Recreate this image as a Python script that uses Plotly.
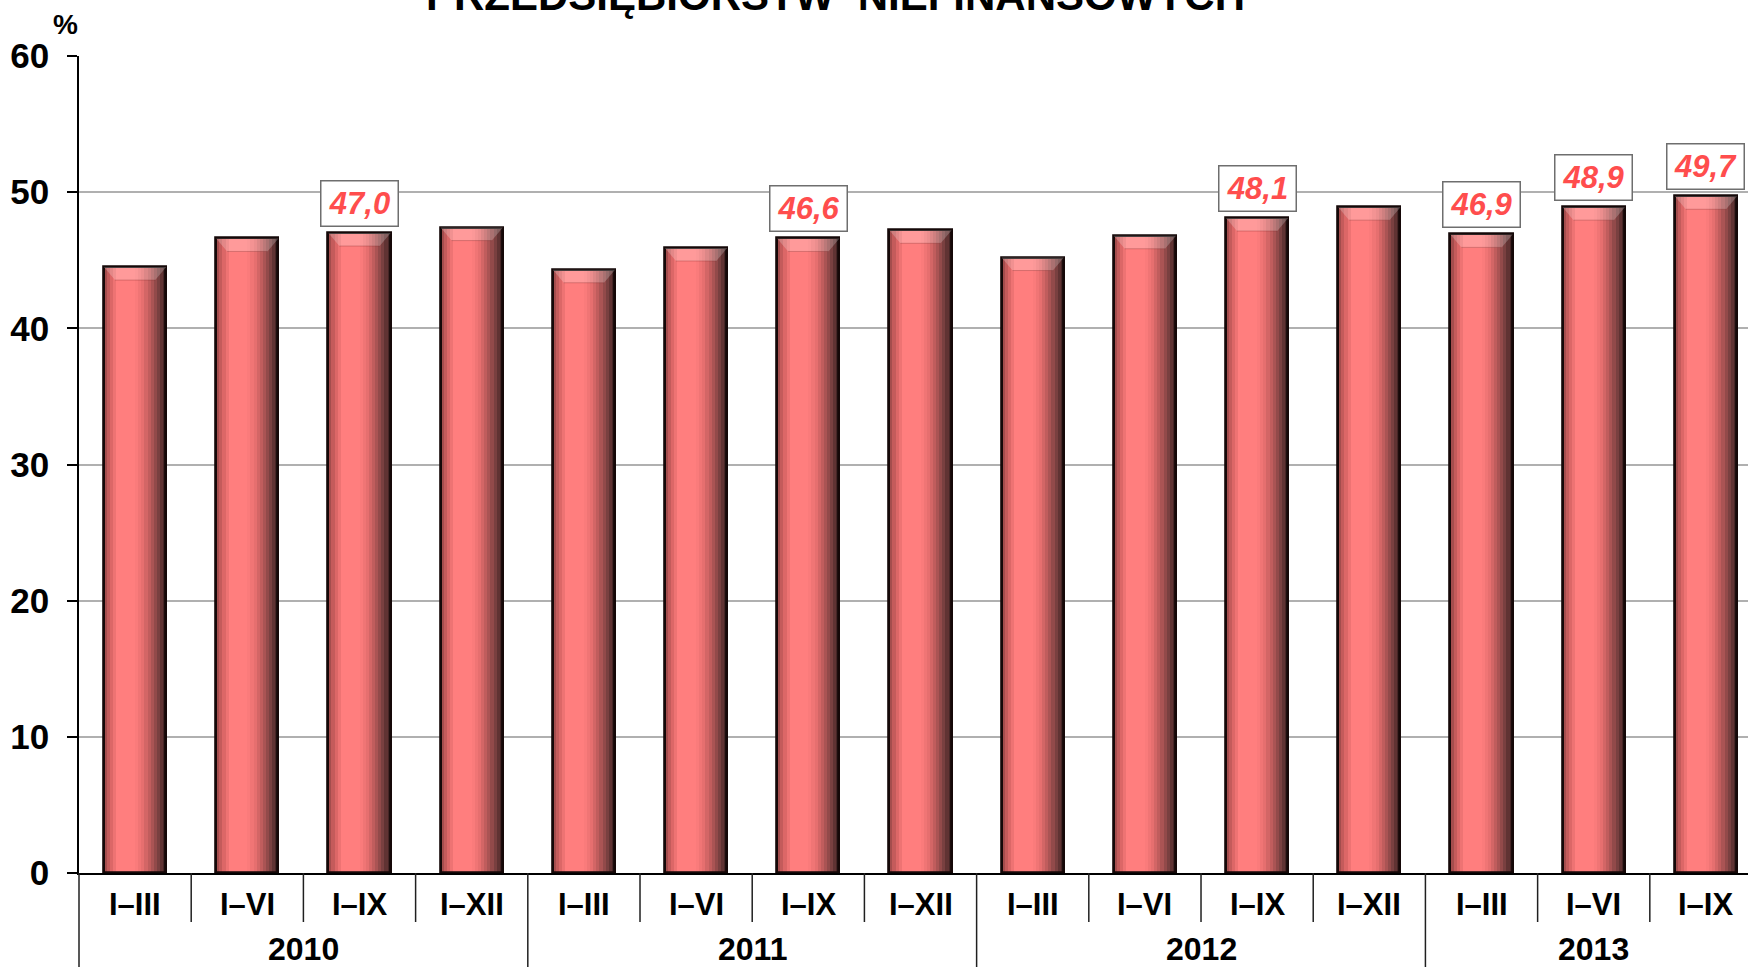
import plotly.graph_objects as go

# ---- data ----
quarters = ["I–III", "I–VI", "I–IX", "I–XII",
            "I–III", "I–VI", "I–IX", "I–XII",
            "I–III", "I–VI", "I–IX", "I–XII",
            "I–III", "I–VI", "I–IX"]
years = ["2010", "2011", "2012", "2013"]
year_sizes = [4, 4, 4, 3]
values = [44.5, 46.6, 47.0, 47.4,
          44.3, 45.9, 46.6, 47.2,
          45.2, 46.8, 48.1, 48.9,
          46.9, 48.9, 49.7]
labelled = [2, 6, 10, 12, 13, 14]
title_text = "PRZEDSIĘBIORSTW  NIEFINANSOWYCH"

# ---- geometry / style ----
W_PX, H_PX = 1748, 967
ML, MR, MT, MB = 79, 0, 56, 94
XMIN, XMAX = -0.5, 14.375
BAR_W = 0.555
FONT = "Arial, Liberation Sans, sans-serif"
plot_h = H_PX - MT - MB
plot_w = W_PX - ML - MR

def paper_x(x):
    return (x - XMIN) / (XMAX - XMIN)

def paper_y_from_px(py):
    return (H_PX - MB - py) / plot_h

xs = list(range(len(values)))

def hex2rgb(h):
    h = h.lstrip('#')
    return tuple(int(h[i:i + 2], 16) for i in (0, 2, 4))

stops = [(0.0, "#944646"), (0.10, "#d46262"), (0.22, "#ff7e7e"), (0.50, "#ff7e7e"),
         (0.62, "#e87070"), (0.75, "#b75959"), (0.88, "#773f3f"), (1.0, "#3a2020")]

def color_at(t):
    for (t0, c0), (t1, c1) in zip(stops[:-1], stops[1:]):
        if t0 <= t <= t1:
            a = (t - t0) / (t1 - t0) if t1 > t0 else 0
            r0, g0, b0 = hex2rgb(c0)
            r1, g1, b1 = hex2rgb(c1)
            return "rgb(%d,%d,%d)" % (r0 + (r1 - r0) * a, g0 + (g1 - g0) * a, b0 + (b1 - b0) * a)
    return stops[-1][1]

fig = go.Figure()

# base fill
fig.add_trace(go.Bar(x=xs, y=values, width=BAR_W, marker=dict(color="#e87070", line=dict(width=0)),
                     hoverinfo="skip", showlegend=False))
# gradient strips
N = 20
sw = BAR_W / N
for k in range(N):
    t = (k + 0.5) / N
    fig.add_trace(go.Bar(x=xs, y=values, width=sw * 1.05, offset=-BAR_W / 2 + k * sw,
                         marker=dict(color=color_at(t), line=dict(width=0)),
                         hoverinfo="skip", showlegend=False))

# top bevel highlight
bev_h = 13 / (plot_h / 60)
bev_d = 11 / (plot_w / (XMAX - XMIN))
bx, by = [], []
for x, v in zip(xs, values):
    bx += [x - BAR_W / 2, x + BAR_W / 2, x + BAR_W / 2 - bev_d, x - BAR_W / 2 + bev_d, x - BAR_W / 2, None]
    by += [v, v, v - bev_h, v - bev_h, v, None]
fig.add_trace(go.Scatter(x=bx, y=by, fill="toself", fillcolor="rgba(255,255,255,0.22)",
                         mode="lines", line=dict(width=0), hoverinfo="skip", showlegend=False))
# bevel bottom shadow line
sx, sy = [], []
for x, v in zip(xs, values):
    sx += [x - BAR_W / 2 + bev_d, x + BAR_W / 2 - bev_d, None]
    sy += [v - bev_h, v - bev_h, None]
fig.add_trace(go.Scatter(x=sx, y=sy, mode="lines", line=dict(width=1, color="rgba(120,40,40,0.3)"),
                         hoverinfo="skip", showlegend=False))

# outline
fig.add_trace(go.Bar(x=xs, y=values, width=BAR_W,
                     marker=dict(color="rgba(0,0,0,0)", line=dict(width=2.8, color="#150808")),
                     hoverinfo="skip", showlegend=False))

annotations = []
# data labels
for i in labelled:
    annotations.append(dict(
        x=xs[i], y=values[i], xref="x", yref="y", yanchor="bottom", yshift=6,
        text="<b><i>%s</i></b>" % ("%.1f" % values[i]).replace(".", ","),
        showarrow=False, font=dict(family=FONT, size=31, color="#ff4d4d"),
        bgcolor="white", bordercolor="#6e6e6e", borderwidth=1.5, borderpad=3,
        width=70, height=38))

# quarter labels
for x, q in zip(xs, quarters):
    annotations.append(dict(x=x, y=paper_y_from_px(904), xref="x", yref="paper",
                            yanchor="middle", xanchor="center",
                            text="<b>%s</b>" % q, showarrow=False,
                            font=dict(family=FONT, size=31, color="black")))
# year labels
start = 0
shapes = []
for yr, n in zip(years, year_sizes):
    center = (xs[start] + xs[start + n - 1]) / 2
    annotations.append(dict(x=center, y=paper_y_from_px(949), xref="x", yref="paper",
                            yanchor="middle", xanchor="center",
                            text="<b>%s</b>" % yr, showarrow=False,
                            font=dict(family=FONT, size=32, color="black")))
    start += n

# dividers
year_bounds = []
acc = 0
for n in year_sizes:
    year_bounds.append(acc - 0.5)
    acc += n
for i in range(len(xs)):
    b = i - 0.5
    if b in year_bounds:
        y_end = paper_y_from_px(H_PX + 5)
    else:
        y_end = paper_y_from_px(922)
    shapes.append(dict(type="line", xref="paper", yref="paper", x0=paper_x(b), x1=paper_x(b),
                       y0=0, y1=y_end, line=dict(color="#202020", width=1.5)))

# title and % sign
annotations.append(dict(x=(835 - ML) / plot_w, y=paper_y_from_px(21), xref="paper", yref="paper",
                        yanchor="bottom", xanchor="center", text="<b>%s</b>" % title_text, showarrow=False,
                        font=dict(family=FONT, size=42, color="black")))
annotations.append(dict(x=(65 - ML) / plot_w, y=paper_y_from_px(25), xref="paper", yref="paper",
                        yanchor="middle", xanchor="center",
                        text="<b>%</b>", showarrow=False,
                        font=dict(family=FONT, size=28, color="black")))

fig.update_layout(
    width=W_PX, height=H_PX,
    margin=dict(l=ML, r=MR, t=MT, b=MB, pad=0),
    paper_bgcolor="white", plot_bgcolor="white",
    barmode="overlay", bargap=0,
    showlegend=False,
    annotations=annotations, shapes=shapes,
    xaxis=dict(range=[XMIN, XMAX], showticklabels=False, ticks="", showgrid=False, zeroline=False,
               showline=True, linecolor="black", linewidth=1.5, fixedrange=True),
    yaxis=dict(range=[0, 60], dtick=10, showgrid=True, gridcolor="#b0b0b0", gridwidth=1.5,
               zeroline=False, showline=True, linecolor="black", linewidth=1.5,
               ticks="outside", ticklen=10, tickcolor="black", tickwidth=1.5,
               ticklabelstandoff=11,
               tickfont=dict(family=FONT, size=35, color="black", weight="bold"),
               fixedrange=True),
)

fig.write_html("out.html", config={"displayModeBar": False},
               post_script="document.body.style.margin='0';document.body.style.overflow='hidden';")
